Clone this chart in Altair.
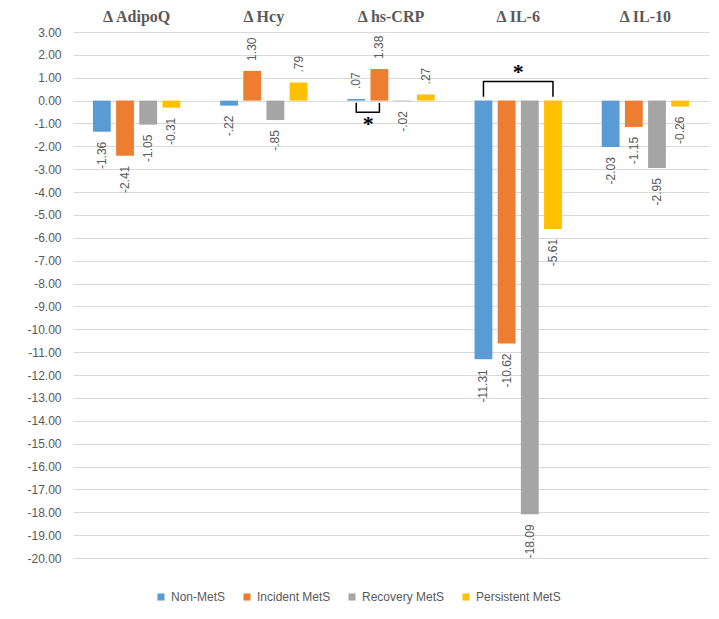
import altair as alt
import pandas as pd

groups = ["Δ AdipoQ", "Δ Hcy", "Δ hs-CRP", "Δ IL-6", "Δ IL-10"]
series = ["Non-MetS", "Incident MetS", "Recovery MetS", "Persistent MetS"]
colors = ["#5B9BD5", "#ED7D31", "#A5A5A5", "#FFC000"]

non_mets = [-1.36, -0.22, 0.07, -11.31, -2.03]
incident = [-2.41, 1.30, 1.38, -10.62, -1.15]
recovery = [-1.05, -0.85, -0.02, -18.09, -2.95]
persistent = [-0.31, 0.79, 0.27, -5.61, -0.26]

non_lab = ["-1.36", "-.22", ".07", "-11.31", "-2.03"]
inc_lab = ["-2.41", "1.30", "1.38", "-10.62", "-1.15"]
rec_lab = ["-1.05", "-.85", "-.02", "-18.09", "-2.95"]
per_lab = ["-0.31", ".79", ".27", "-5.61", "-0.26"]

y_ticks = list(range(-20, 4))

# significance brackets
br_id = ["a", "a", "a", "a", "b", "b", "b", "b"]
br_group = ["Δ IL-6"] * 4 + ["Δ hs-CRP"] * 4
br_series = ["Non-MetS", "Non-MetS", "Persistent MetS", "Persistent MetS",
             "Non-MetS", "Non-MetS", "Incident MetS", "Incident MetS"]
br_y = [0.17, 0.84, 0.84, 0.17, -0.09, -0.51, -0.51, -0.09]
br_ord = [0, 1, 2, 3, 0, 1, 2, 3]

rows = []
for s, vals, labs in zip(series, [non_mets, incident, recovery, persistent],
                         [non_lab, inc_lab, rec_lab, per_lab]):
    for g, v, l in zip(groups, vals, labs):
        rows.append({"group": g, "series": s, "value": v, "label": l})
df = pd.DataFrame(rows)

br_df = pd.DataFrame({"bid": br_id, "group": br_group, "series": br_series,
                      "value": br_y, "ord": br_ord})
ast_il6 = pd.DataFrame({"group": ["Δ IL-6"], "value": [1.27], "t": ["*"]})
ast_crp = pd.DataFrame({"group": ["Δ hs-CRP"], "series": ["Non-MetS"], "value": [-1.03], "t": ["*"]})

GRAY = "#595959"
FONT = "Liberation Sans"

x_enc = alt.X("group:N", sort=groups, title=None,
              scale=alt.Scale(paddingInner=0, paddingOuter=0),
              axis=alt.Axis(orient="top", labelAngle=0, ticks=False, domain=False,
                            labelFont="Liberation Serif", labelFontWeight="bold",
                            labelFontSize=16, labelColor=GRAY, labelPadding=8,
                            grid=False))
xo_enc = alt.XOffset("series:N", sort=series,
                     scale=alt.Scale(domain=series, paddingInner=0.23, paddingOuter=0.86))
y_enc = alt.Y("value:Q", title=None,
              scale=alt.Scale(domain=[-20, 3], nice=False),
              axis=alt.Axis(values=y_ticks, ticks=False, domain=False,
                            labelOverlap=False,
                            labelExpr="replace(format(datum.value, '.2f'), '\u2212', '-')",
                            labelFont=FONT, labelFontSize=12, labelColor=GRAY,
                            labelPadding=12, gridColor="#d9d9d9", gridWidth=1))

base = alt.Chart(df)

bars = base.mark_bar().encode(
    x=x_enc, xOffset=xo_enc, y=y_enc,
    color=alt.Color("series:N", sort=series,
                    scale=alt.Scale(domain=series, range=colors),
                    legend=alt.Legend(title=None, orient="none", direction="horizontal",
                                      legendX=82, legendY=559, symbolType="square",
                                      symbolSize=50, symbolStrokeWidth=0,
                                      labelFont=FONT, labelFontSize=12,
                                      labelColor=GRAY, columnPadding=15,
                                      labelOffset=4)),
)

pos_lab = base.transform_filter("datum.value >= 0").mark_text(
    angle=270, align="left", baseline="middle", yOffset=-10,
    font=FONT, fontSize=12, color=GRAY
).encode(x=x_enc, xOffset=xo_enc, y=y_enc, text="label:N")

neg_lab = base.transform_filter("datum.value < 0").mark_text(
    angle=270, align="right", baseline="middle", yOffset=10,
    font=FONT, fontSize=12, color=GRAY
).encode(x=x_enc, xOffset=xo_enc, y=y_enc, text="label:N")

brackets = alt.Chart(br_df).mark_line(color="black", strokeWidth=1.5,
                                      strokeJoin="round").encode(
    x=x_enc, xOffset=xo_enc, y=y_enc, detail="bid:N", order="ord:Q"
)

a1 = alt.Chart(ast_il6).mark_text(font="Liberation Serif", fontSize=22,
                                  fontWeight="bold", color="black",
                                  baseline="middle").encode(
    x=x_enc, y=y_enc, text="t:N")
a2 = alt.Chart(ast_crp).mark_text(font="Liberation Serif", fontSize=22,
                                  fontWeight="bold", color="black",
                                  baseline="middle", dx=12).encode(
    x=x_enc, xOffset=xo_enc, y=y_enc, text="t:N")

chart = alt.layer(bars, pos_lab, neg_lab, brackets, a1, a2).properties(
    width=636, height=526,
    padding={"left": 65, "top": 24, "right": 2, "bottom": 53},
    autosize=alt.AutoSizeParams(type="none"),
    background="white",
).configure_view(stroke=None)

chart.save("out.html", embed_options={"renderer": "svg", "actions": False})
